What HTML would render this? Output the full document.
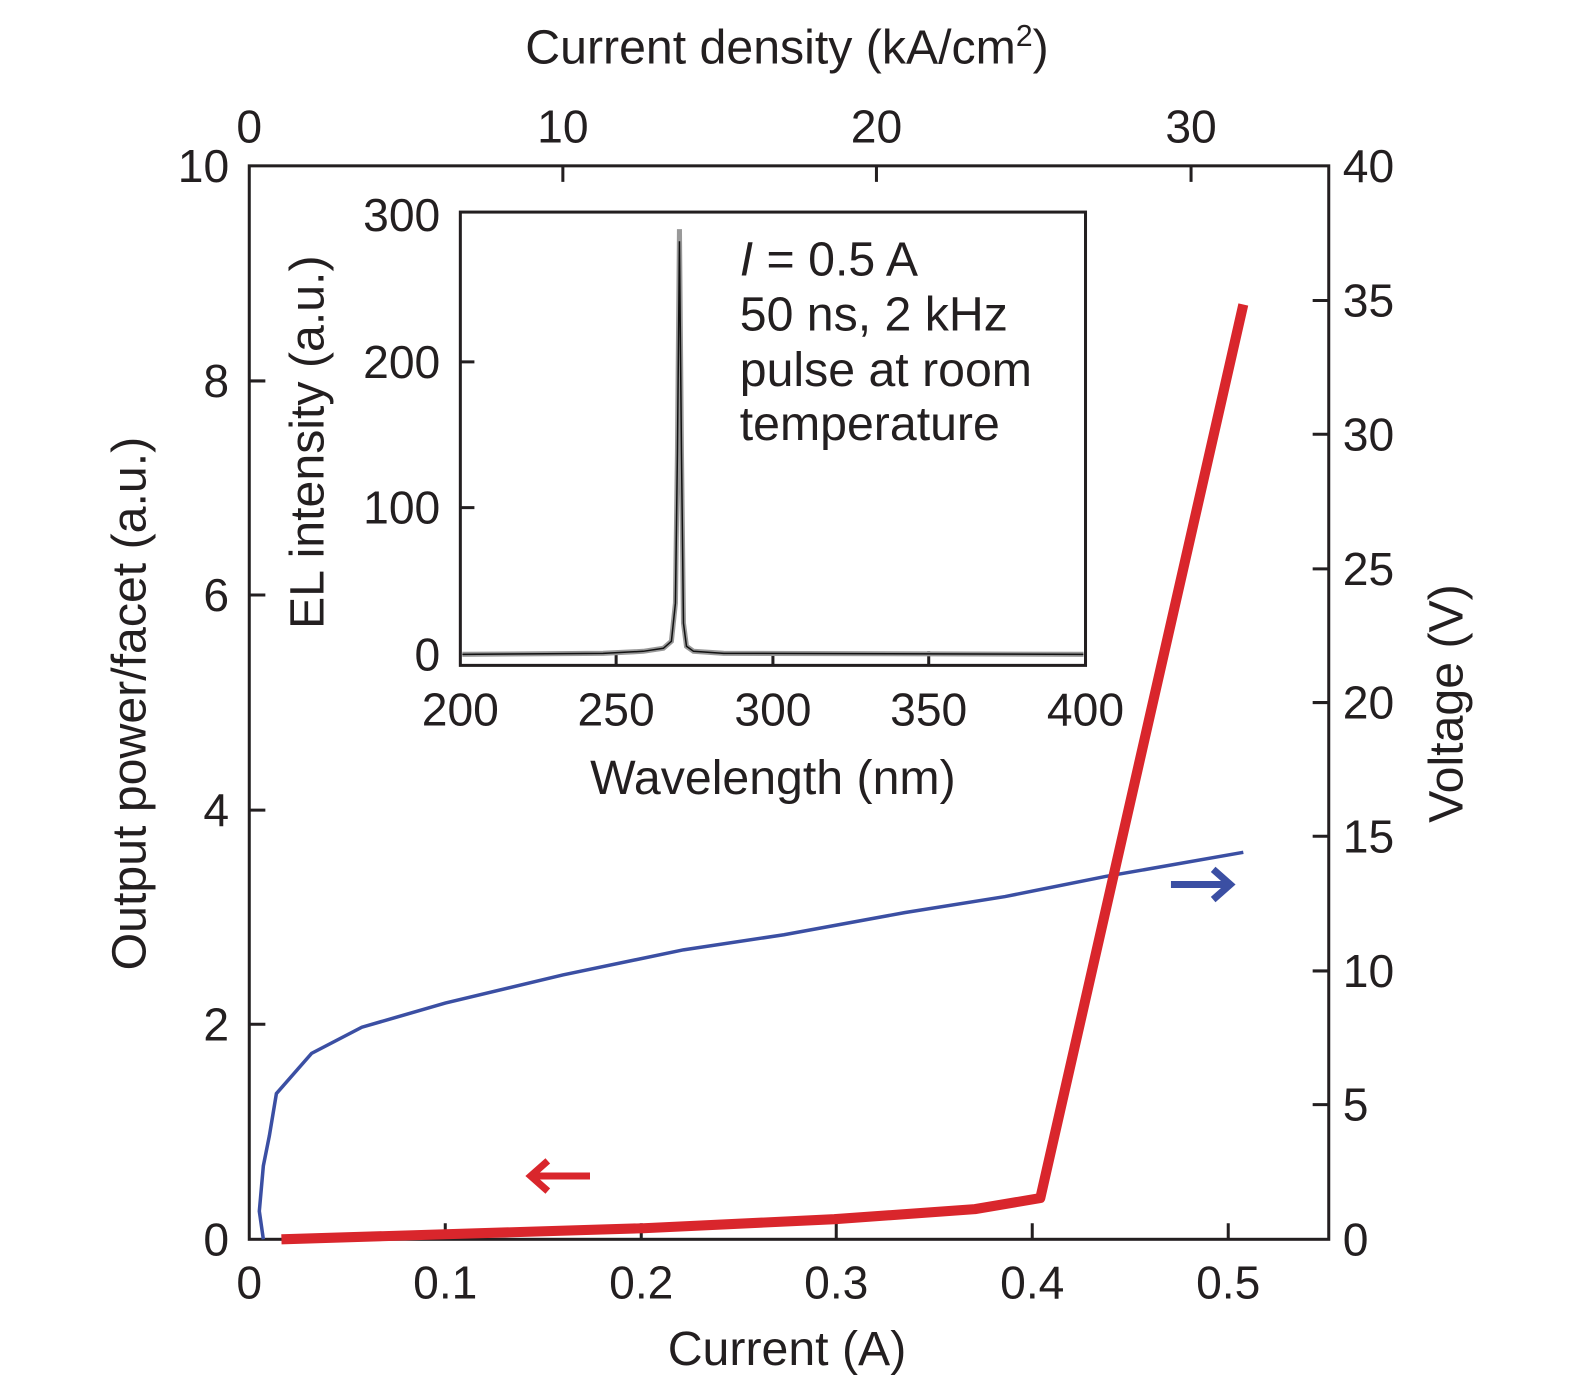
<!DOCTYPE html>
<html><head><meta charset="utf-8"><style>
html,body{margin:0;padding:0;background:#fff}
svg{display:block}
text{font-family:"Liberation Sans",sans-serif;fill:#231f20}
</style></head><body>
<svg width="1575" height="1378" viewBox="0 0 1567 1371" preserveAspectRatio="none" xmlns="http://www.w3.org/2000/svg">
<g stroke="#231f20" stroke-width="3" fill="none">
<rect x="248" y="165" width="1074" height="1068"/>
<path d="M248 1019h16M248 806h16M248 592h16M248 379h16"/>
<path d="M443 1233v-16M638 1233v-16M832 1233v-16M1027 1233v-16M1222 1233v-16"/>
<path d="M560 165v16M872 165v16M1185 165v16"/>
<path d="M1322 1099h-16M1322 966h-16M1322 832h-16M1322 699h-16M1322 566h-16M1322 432h-16M1322 299h-16"/>
<rect x="458" y="211" width="622" height="451"/>
<path d="M458 505h14M458 360h14M613 662v-14M769 662v-14M924 662v-14"/>
</g>
<g font-size="46" text-anchor="end">
<text x="228" y="1249">0</text><text x="228" y="1035">2</text><text x="228" y="822">4</text><text x="228" y="608">6</text><text x="228" y="395">8</text><text x="228" y="181">10</text>
</g>
<g font-size="46" text-anchor="start">
<text x="1336" y="1249">0</text><text x="1336" y="1115">5</text><text x="1336" y="982">10</text><text x="1336" y="848">15</text><text x="1336" y="715">20</text><text x="1336" y="582">25</text><text x="1336" y="448">30</text><text x="1336" y="315">35</text><text x="1336" y="181">40</text>
</g>
<g font-size="46" text-anchor="middle">
<text x="248" y="1292">0</text><text x="443" y="1292">0.1</text><text x="638" y="1292">0.2</text><text x="832" y="1292">0.3</text><text x="1027" y="1292">0.4</text><text x="1222" y="1292">0.5</text>
<text x="248" y="142">0</text><text x="560" y="142">10</text><text x="872" y="142">20</text><text x="1185" y="142">30</text>
<text x="783" y="1358" font-size="48">Current (A)</text>
<text x="783" y="63" font-size="48">Current density (kA/cm<tspan font-size="30" dy="-17">2</tspan><tspan dy="17">)</tspan></text>
<text x="458" y="722">200</text><text x="613" y="722">250</text><text x="769" y="722">300</text><text x="924" y="722">350</text><text x="1080" y="722">400</text>
<text x="769" y="790" font-size="48">Wavelength (nm)</text>
</g>
<g font-size="46" text-anchor="end">
<text x="438" y="667">0</text><text x="438" y="521">100</text><text x="438" y="376">200</text><text x="438" y="230">300</text>
</g>
<text font-size="48" text-anchor="middle" transform="translate(145,700) rotate(-90)">Output power/facet (a.u.)</text>
<text font-size="48" text-anchor="middle" transform="translate(1455,700) rotate(-90)">Voltage (V)</text>
<text font-size="48" text-anchor="middle" transform="translate(322,440) rotate(-90)">EL intensity (a.u.)</text>
<g font-size="48">
<text x="736" y="274"><tspan font-style="italic">I</tspan> = 0.5 A</text>
<text x="736" y="329">50 ns, 2 kHz</text>
<text x="736" y="384">pulse at room</text>
<text x="736" y="438">temperature</text>
</g>
<path d="M460 651 L600 650 L640 648 L660 645 L668 638 L672 600 L674 450 L676 228 L678 450 L680 620 L683 643 L690 648 L720 650 L1078 651" stroke="#999" stroke-width="5" fill="none"/>
<path d="M460 651 L600 650 L640 648 L660 645 L668 638 L672 600 L674 450 L676 240 L678 450 L680 620 L683 643 L690 648 L720 650 L1078 651" stroke="#111" stroke-width="1.5" fill="none"/>
<polyline fill="none" stroke="#3b4fa3" stroke-width="3.5" points="262,1233 258,1205 262,1160 268,1130 275,1088 310,1048 360,1022 443,998 560,970 680,945 780,930 900,908 1000,892 1100,872 1237,848"/>
<polyline fill="none" stroke="#d9262c" stroke-width="10" stroke-linejoin="round" points="280,1233 443,1228 640,1222 830,1213 970,1203 1035,1192 1237,303"/>
<path d="M587 1170 H530 M545 1155 L528 1170 L545 1185" stroke="#d9262c" stroke-width="7" fill="none"/>
<path d="M1165 880 H1222 M1207 865 L1224 880 L1207 895" stroke="#3b4fa3" stroke-width="7" fill="none"/>
</svg>
</body></html>
